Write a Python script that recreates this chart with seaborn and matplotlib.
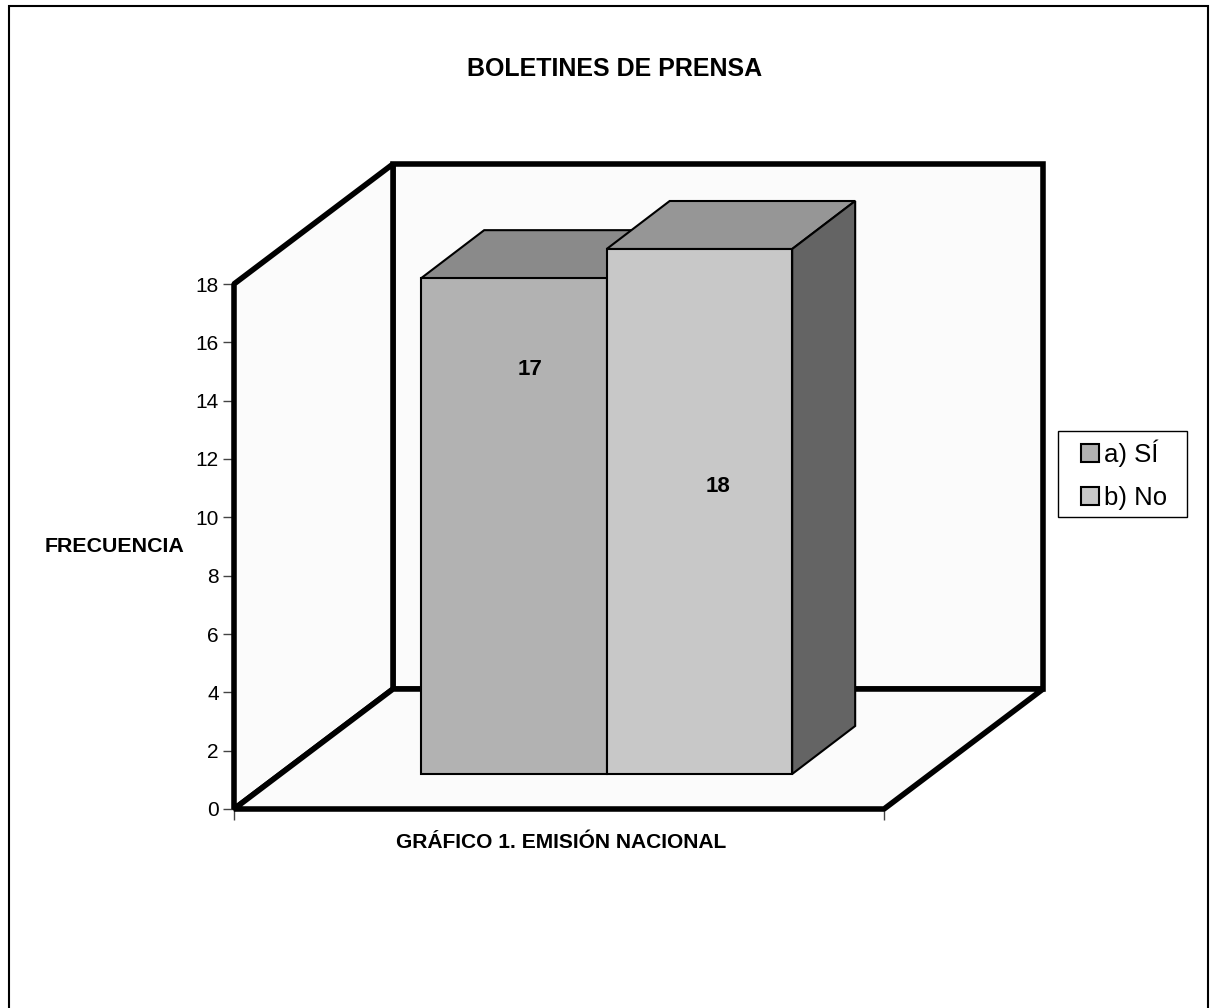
import matplotlib
matplotlib.use("Agg")
import matplotlib.pyplot as plt
import seaborn as sns
from matplotlib.patches import Patch, Polygon, Rectangle

categories = ["a) SÍ", "b) No"]
values = [17, 18]
bar_colors = ["#b2b2b2", "#c8c8c8"]
top_colors = ["#8a8a8a", "#969696"]
side_colors = ["#5a5a5a", "#646464"]
y_ticks = [0, 2, 4, 6, 8, 10, 12, 14, 16, 18]

W, H = 1210, 1008
sns.set_theme(style="white")
plt.rcParams["font.family"] = ["Liberation Sans", "DejaVu Sans"]

fig = plt.figure(figsize=(W / 100, H / 100), dpi=100)
ax = fig.add_axes([234 / W, (H - 809) / H, 650 / W, 525 / H])

# x runs in bar widths, y in frequency units
x0, x1 = -1.509, 1.995
px_x = 650 / (x1 - x0)
px_y = 525 / 18

# Depth of the walls and of the bars, turned into data units
wall_dx, wall_dy = 159 / px_x, 120 / px_y
bar_dx, bar_dy = 63 / px_x, 48 / px_y
base = 35 / px_y

# Walls and floor of the fake 3D box
wall = "#fbfbfb"
ymax = 18
back_wall = [(x0 + wall_dx, wall_dy), (x0 + wall_dx, ymax + wall_dy),
             (x1 + wall_dx, ymax + wall_dy), (x1 + wall_dx, wall_dy)]
left_wall = [(x0, 0), (x0, ymax), (x0 + wall_dx, ymax + wall_dy), (x0 + wall_dx, wall_dy)]
floor = [(x0, 0), (x1, 0), (x1 + wall_dx, wall_dy), (x0 + wall_dx, wall_dy)]
for pts, join in [(back_wall, "miter"), (left_wall, "bevel"), (floor, "bevel")]:
    ax.add_patch(Polygon(pts, closed=True, facecolor=wall, edgecolor="black", linewidth=4,
                         joinstyle=join, clip_on=False, zorder=1))

sns.barplot(x=categories, y=values, hue=categories, palette=bar_colors, dodge=False, width=1.0,
            bottom=base, edgecolor="black", linewidth=1.5, legend=False, ax=ax)
ax.set_xlim(x0, x1)
ax.set_ylim(0, 18)

# Second bar sits over the first one
for i, container in enumerate(ax.containers):
    for bar in container:
        bar.set_zorder(3 + i)
        bar.set_clip_on(False)

# Top and side faces of each bar
for i, val in enumerate(values):
    left, right = i - 0.5, i + 0.5
    top = val + base
    z = 2.5 + i
    ax.add_patch(Polygon([(left, top), (right, top), (right + bar_dx, top + bar_dy), (left + bar_dx, top + bar_dy)],
                         closed=True, facecolor=top_colors[i], edgecolor="black", linewidth=1.5,
                         clip_on=False, zorder=z))
    ax.add_patch(Polygon([(right, base), (right + bar_dx, base + bar_dy), (right + bar_dx, top + bar_dy), (right, top)],
                         closed=True, facecolor=side_colors[i], edgecolor="black", linewidth=1.5,
                         clip_on=False, zorder=z))

ax.text(0.086, 15.08, str(values[0]), ha="center", va="center", fontsize=16, fontweight="bold", color="black", zorder=6)
ax.text(1.1, 11.07, str(values[1]), ha="center", va="center", fontsize=16, fontweight="bold", color="black", zorder=6)

ax.set_xticks([x0, x1])
ax.set_xticklabels(["", ""])
ax.set_yticks(y_ticks)
ax.set_yticklabels([str(t) for t in y_ticks], fontsize=15, color="black")
ax.tick_params(axis="both", length=8, width=1, color="#444444", pad=3,
               bottom=True, left=True)
sns.despine(ax=ax, left=True, bottom=True)
ax.set_xlabel("")
ax.set_ylabel("")

fig.text(615 / W, 1 - 68.5 / H, "BOLETINES DE PRENSA", ha="center", va="center", fontsize=18, fontweight="bold", color="black")
fig.text(115 / W, 1 - 547 / H, "FRECUENCIA", ha="center", va="center", fontsize=15.4, fontweight="bold", color="black")
fig.text(561 / W, 1 - 842 / H, "GRÁFICO 1. EMISIÓN NACIONAL", ha="center", va="center", fontsize=15.1, fontweight="bold", color="black")

# Legend box is drawn apart since its side margins are wider than its top and bottom ones
fig.add_artist(Rectangle((1058 / W, 1 - 517 / H), 129 / W, 86 / H, transform=fig.transFigure,
                         facecolor="white", edgecolor="black", linewidth=1))
handles = [Patch(facecolor=c, edgecolor="black", linewidth=1.5) for c in bar_colors]
leg = fig.legend(handles, categories, loc="center", bbox_to_anchor=(1124 / W, 1 - 475 / H), fontsize=18.5,
                 labelcolor="black", frameon=False, handlelength=0.7, handleheight=0.7,
                 handletextpad=0.2, labelspacing=0.74, borderpad=0.3, borderaxespad=0)
leg.set_zorder(5)

# Outer chart frame, its bottom edge falls outside the picture
fig.add_artist(Rectangle((9 / W, -20 / H), (1208 - 9) / W, (1028 - 6) / H, transform=fig.transFigure,
                         facecolor="none", edgecolor="black", linewidth=1.5))

fig.savefig("out.png", dpi=100, facecolor="white")
